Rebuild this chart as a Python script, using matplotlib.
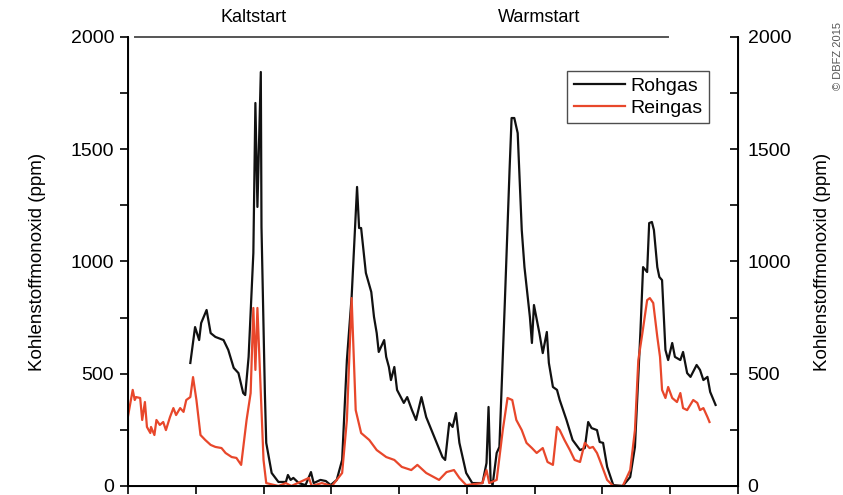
"""CO-Emissionen Kalt-/Warmstart: Rohgas vs. Reingas."""

import matplotlib.pyplot as plt
from matplotlib.ticker import MultipleLocator, NullFormatter

plt.rcParams["font.family"] = ["Liberation Sans", "DejaVu Sans"]

# Zeit (min) und CO (ppm)
t_rein = [0.0, 0.7, 1.0, 1.2, 1.8, 2.1, 2.5, 2.8, 3.3, 3.4, 3.9, 4.2, 4.7, 5.2,
          5.6, 6.2, 6.7, 7.1, 7.7, 8.2, 8.6, 9.2, 9.6, 10.1, 10.7, 11.4, 12.2,
          12.9, 13.8, 14.4, 15.3, 16.0, 16.7, 17.5, 18.1, 18.5, 18.8, 19.1,
          19.6, 20.0, 20.4, 22.2, 23.3, 24.1, 26.7, 27.1, 28.6, 30.1, 31.6,
          32.3, 33.0, 33.6, 34.4, 35.6, 36.7, 38.1, 39.3, 40.4, 41.8, 42.7,
          44.0, 45.9, 47.0, 48.1, 48.9, 49.9, 52.3, 52.9, 53.3, 54.4, 55.3,
          56.0, 56.7, 57.3, 58.1, 58.8, 59.6, 60.3, 61.2, 61.9, 62.7, 63.3,
          63.7, 64.4, 65.2, 65.9, 66.7, 67.4, 68.1, 68.6, 69.2, 69.6, 70.7,
          71.6, 73.0, 74.1, 74.8, 75.3, 75.9, 76.6, 77.0, 77.5, 78.1, 78.5,
          78.8, 79.3, 79.7, 80.3, 81.0, 81.5, 81.9, 82.5, 83.4, 84.0, 84.4,
          84.9, 85.5, 85.8]
co_rein = [310, 428, 383, 396, 392, 294, 374, 263, 236, 263, 227, 294, 272, 285,
           249, 307, 347, 316, 347, 330, 383, 396, 485, 383, 227, 205, 183,
           174, 169, 147, 129, 125, 94, 294, 414, 793, 517, 793,
           414, 116, 13, 0, 13, 0, 36, 0, 13, 0, 58,
           294, 837, 338, 236, 205, 160, 129, 116, 85, 71, 94,
           58, 27, 62, 71, 36, 4, 13, 71, 13, 27, 249,
           392, 383, 294, 249, 192, 169, 147, 169, 107, 94, 263,
           249, 205, 160, 116, 107, 192, 169, 174, 147, 116, 27,
           0, 0, 71, 249, 561, 681, 828, 837, 815, 664, 575,
           428, 392, 441, 392, 374, 414, 347, 338, 383, 370, 338,
           347, 307, 285]

t_roh = [9.2, 9.9, 10.5, 10.8, 11.6, 12.2, 12.9, 14.1, 14.8, 15.6, 16.3, 17.0,
         17.3, 17.8, 18.5, 18.8, 19.1, 19.6, 19.7, 20.2, 20.4, 21.2, 22.2,
         23.3, 23.6, 24.0, 24.4, 25.2, 26.2, 27.0, 27.4, 28.4, 29.2, 29.9,
         30.8, 31.6, 32.3, 33.0, 33.8, 34.1, 34.4, 35.1, 35.9, 36.3, 36.7,
         37.0, 37.8, 38.1, 38.5, 38.8, 39.3, 39.7, 40.7, 41.2, 41.9, 42.5,
         43.3, 44.0, 45.2, 46.4, 46.8, 47.4, 47.9, 48.4, 48.9, 49.9, 50.8,
         52.3, 52.9, 53.2, 53.5, 53.8, 54.4, 54.8, 55.6, 56.3, 56.6, 57.0,
         57.5, 58.1, 58.5, 59.3, 59.6, 59.9, 60.7, 61.2, 61.8, 62.1, 62.7,
         63.3, 63.7, 64.7, 65.6, 66.7, 67.4, 67.9, 68.4, 69.2, 69.6, 70.1,
         70.7, 71.6, 73.0, 74.1, 74.8, 75.6, 76.0, 76.6, 76.9, 77.3, 77.6,
         78.1, 78.4, 78.8, 79.3, 79.7, 80.3, 80.7, 81.5, 81.9, 82.5, 83.0,
         83.9, 84.4, 84.9, 85.5, 85.9, 86.7]
co_roh = [548, 708, 650, 726, 784, 681, 664, 650, 606, 526, 503, 414,
          405, 575, 1038, 1706, 1243, 1844, 1154, 414, 192, 58, 18,
          18, 49, 27, 36, 13, 4, 62, 13, 27, 22, 4,
          27, 116, 561, 842, 1332, 1149, 1149, 949, 864, 753, 681,
          597, 650, 575, 530, 472, 530, 428, 370, 396, 338, 294,
          396, 307, 218, 129, 116, 281, 263, 325, 192, 58, 13,
          13, 102, 352, 27, 4, 147, 174, 815, 1407, 1639, 1639,
          1572, 1140, 975, 753, 637, 806, 681, 592, 686, 548, 441,
          428, 383, 294, 205, 160, 169, 285, 258, 249, 196, 192,
          85, 4, 0, 40, 174, 681, 975, 953, 1171, 1176, 1140,
          975, 931, 917, 606, 561, 637, 575, 561, 597, 503, 486,
          539, 517, 472, 486, 419, 361]

phasen = ["Kaltstart", "Warmstart"]
phasen_t = [18.5, 60.7]

fig = plt.figure(figsize=(8.43, 4.95), dpi=100)
ax = fig.add_axes([0.1518, 0.0182, 0.7236, 0.9071])

ax.plot(t_roh, co_roh, color="#111111", lw=1.6, label="Rohgas")
ax.plot(t_rein, co_rein, color="#e8472b", lw=1.6, label="Reingas")

ax.set_xlim(0, 90)
ax.set_ylim(0, 2000)
ax.xaxis.set_major_locator(MultipleLocator(10))
ax.xaxis.set_major_formatter(NullFormatter())
ax.yaxis.set_major_locator(MultipleLocator(500))
ax.yaxis.set_minor_locator(MultipleLocator(250))
ax.tick_params(axis="both", which="both", direction="out", length=6,
               width=1.2, labelsize=14, pad=4)
ax.spines["top"].set_visible(False)
for s in ("left", "right", "bottom"):
    ax.spines[s].set_linewidth(1.4)
ax.set_ylabel("Kohlenstoffmonoxid (ppm)", fontsize=13.5)
ax.yaxis.set_label_coords(-0.134, 0.5)

ax2 = ax.twinx()
ax2.set_ylim(0, 2000)
ax2.yaxis.set_major_locator(MultipleLocator(500))
ax2.yaxis.set_minor_locator(MultipleLocator(250))
ax2.tick_params(axis="y", which="both", direction="in", length=6,
                width=1.2, labelsize=14, pad=7)
ax2.spines["top"].set_visible(False)
ax2.set_ylabel("Kohlenstoffmonoxid (ppm)", fontsize=13.5)
ax2.yaxis.set_label_coords(1.124, 0.5)

# Phasenlinie oben
ax.plot([1, 79.7], [2000, 2000], color="#555555", lw=1.4, clip_on=False)
for name, tt in zip(phasen, phasen_t):
    ax.text(tt, 2085, name, ha="center", va="center", fontsize=13)

leg = ax.legend(loc="upper right", bbox_to_anchor=(0.953, 0.925), fontsize=14,
                frameon=True, fancybox=False, edgecolor="#222222",
                handlelength=2.6, handletextpad=0.3, borderpad=0.35,
                labelspacing=0.2, borderaxespad=0)
leg.get_frame().set_linewidth(1.0)

fig.text(0.994, 0.818, "© DBFZ 2015", rotation=90, ha="center", va="bottom",
         fontsize=8, color="#555555")

fig.savefig("out.png", dpi=100)
